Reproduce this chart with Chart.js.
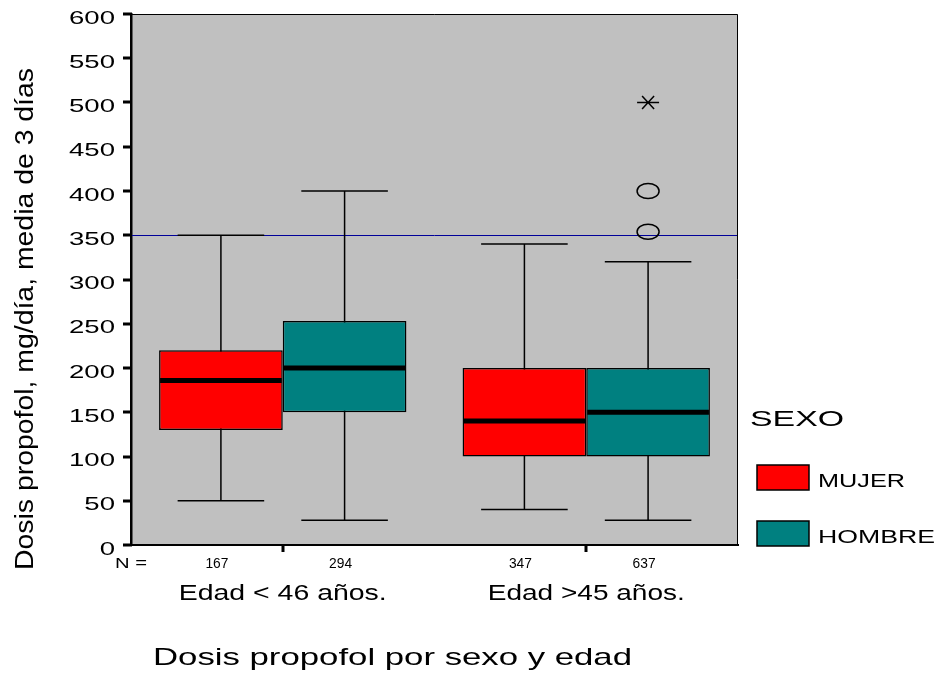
<!DOCTYPE html>
<html>
<head>
<meta charset="utf-8">
<script src="https://cdn.jsdelivr.net/npm/chart.js@4.4.1/dist/chart.umd.min.js"></script>
<style>
  html, body { margin: 0; padding: 0; background: #ffffff; }
  #wrap { width: 938px; height: 673px; }
</style>
</head>
<body>
<div id="wrap"><canvas id="chart" width="938" height="673"></canvas></div>
<script>
// Age groups on the x axis and the two sexes drawn side by side
const ageGroups = ['Edad < 46 años.', 'Edad >45 años.'];
const sexNames = ['MUJER', 'HOMBRE'];
const sexColors = ['#ff0000', '#008080'];

// Box-plot summaries (mg/día), one entry per age group
const mujerLow    = [50, 40];
const mujerQ1     = [130, 100];
const mujerMedian = [186, 140];
const mujerQ3     = [220, 200];
const mujerHigh   = [350, 340];

const hombreLow    = [28, 28];
const hombreQ1     = [150, 100];
const hombreMedian = [200, 150];
const hombreQ3     = [253, 200];
const hombreHigh   = [400, 320];

// Outliers (circles) and extreme values (asterisks)
const mujerOutliers  = [[], []];
const mujerExtremes  = [[], []];
const hombreOutliers = [[], [354, 400]];
const hombreExtremes = [[], [500]];

// Group sizes
const mujerN  = [167, 347];
const hombreN = [294, 637];

// Y axis range and the horizontal reference dose
const yMin = 0, yMax = 600, yStep = 50;
const referenceDose = 350;

const yTitle = 'Dosis propofol, mg/día, media de 3 días';
const bottomTitle = 'Dosis propofol por sexo y edad';
const legendTitle = 'SEXO';

const FONT = '"Liberation Sans", Arial, Helvetica, sans-serif';

const stats = [
  { low: mujerLow, q1: mujerQ1, med: mujerMedian, q3: mujerQ3, high: mujerHigh,
    out: mujerOutliers, ext: mujerExtremes, n: mujerN },
  { low: hombreLow, q1: hombreQ1, med: hombreMedian, q3: hombreQ3, high: hombreHigh,
    out: hombreOutliers, ext: hombreExtremes, n: hombreN }
];

// Draws text squeezed or stretched horizontally to a given width
function fitText(ctx, text, x, y, size, width, align) {
  ctx.save();
  ctx.font = size + 'px ' + FONT;
  ctx.textAlign = 'left';
  ctx.textBaseline = 'alphabetic';
  const natural = ctx.measureText(text).width;
  const sx = width / natural;
  let left = x;
  if (align === 'center') left = x - width / 2;
  else if (align === 'right') left = x - width;
  ctx.translate(left, y);
  ctx.scale(sx, 1);
  ctx.fillStyle = '#000000';
  ctx.fillText(text, 0, 0);
  ctx.restore();
}

// Same, with a fixed horizontal scale factor
function wideText(ctx, text, x, y, size, sx, align) {
  ctx.save();
  ctx.font = size + 'px ' + FONT;
  const w = ctx.measureText(text).width * sx;
  ctx.restore();
  fitText(ctx, text, x, y, size, w, align);
}

function barGeom(chart, d, i) {
  const el = chart.getDatasetMeta(d).data[i];
  return el.getProps(['x', 'width'], true);
}

const boxPlotPlugin = {
  id: 'boxPlot',
  beforeDraw(chart) {
    const { ctx, chartArea: a } = chart;
    ctx.save();
    ctx.fillStyle = '#ffffff';
    ctx.fillRect(0, 0, chart.width, chart.height);
    ctx.fillStyle = '#c0c0c0';
    ctx.fillRect(a.left, a.top, a.right - a.left, a.bottom - a.top);
    ctx.restore();
  },
  beforeDatasetsDraw(chart) {
    const { ctx, chartArea: a } = chart;
    const y = chart.scales.y;
    ctx.save();
    // reference dose line
    const ry = Math.round(y.getPixelForValue(referenceDose)) + 0.5;
    ctx.strokeStyle = '#000099';
    ctx.lineWidth = 1;
    ctx.beginPath();
    ctx.moveTo(a.left, ry);
    ctx.lineTo(a.right, ry);
    ctx.stroke();
    // whiskers behind the boxes
    ctx.strokeStyle = '#000000';
    ctx.lineWidth = 1.5;
    stats.forEach((s, d) => {
      ageGroups.forEach((g, i) => {
        const { x, width } = barGeom(chart, d, i);
        const yl = y.getPixelForValue(s.low[i]);
        const yh = y.getPixelForValue(s.high[i]);
        const cap = width * 0.35;
        ctx.beginPath();
        ctx.moveTo(x, yl); ctx.lineTo(x, yh);
        ctx.moveTo(x - cap, yl); ctx.lineTo(x + cap, yl);
        ctx.moveTo(x - cap, yh); ctx.lineTo(x + cap, yh);
        ctx.stroke();
      });
    });
    ctx.restore();
  },
  afterDatasetsDraw(chart) {
    const { ctx, chartArea: a } = chart;
    const y = chart.scales.y;
    ctx.save();
    // medians
    ctx.strokeStyle = '#000000';
    ctx.lineWidth = 5;
    stats.forEach((s, d) => {
      ageGroups.forEach((g, i) => {
        const { x, width } = barGeom(chart, d, i);
        const ym = y.getPixelForValue(s.med[i]);
        ctx.beginPath();
        ctx.moveTo(x - width / 2 + 1, ym);
        ctx.lineTo(x + width / 2 - 1, ym);
        ctx.stroke();
      });
    });
    // outliers and extremes
    ctx.lineWidth = 1.5;
    stats.forEach((s, d) => {
      ageGroups.forEach((g, i) => {
        const { x } = barGeom(chart, d, i);
        s.out[i].forEach(v => {
          const yv = y.getPixelForValue(v);
          ctx.beginPath();
          ctx.ellipse(x, yv, 11, 7.5, 0, 0, Math.PI * 2);
          ctx.stroke();
        });
        s.ext[i].forEach(v => {
          const yv = y.getPixelForValue(v);
          ctx.beginPath();
          ctx.moveTo(x - 11, yv); ctx.lineTo(x + 11, yv);
          ctx.moveTo(x - 6, yv - 6.5); ctx.lineTo(x + 6, yv + 6.5);
          ctx.moveTo(x - 6, yv + 6.5); ctx.lineTo(x + 6, yv - 6.5);
          ctx.stroke();
        });
      });
    });
    // thin frame on top and right of the plot area
    ctx.strokeStyle = '#000000';
    ctx.lineWidth = 1;
    ctx.beginPath();
    ctx.moveTo(a.left, a.top + 0.5);
    ctx.lineTo(a.right - 0.5, a.top + 0.5);
    ctx.lineTo(a.right - 0.5, a.bottom);
    ctx.stroke();
    ctx.restore();
  },
  afterDraw(chart) {
    const { ctx, chartArea: a } = chart;
    const y = chart.scales.y;
    const xs = chart.scales.x;

    // bold tick marks on both axes
    ctx.save();
    ctx.fillStyle = '#000000';
    y.ticks.forEach(t => {
      const py = Math.round(y.getPixelForValue(t.value));
      ctx.fillRect(a.left - 8, py - 1.5, 9, 3);
    });
    ageGroups.forEach((g, i) => {
      const px = Math.round(xs.getPixelForValue(i));
      ctx.fillRect(px - 1.5, a.bottom, 3, 7);
    });
    ctx.restore();

    // y tick labels
    y.ticks.forEach(t => {
      const py = y.getPixelForValue(t.value);
      wideText(ctx, String(t.value), 115, py + 9.5, 19, 1.45, 'right');
    });

    // N row
    fitText(ctx, 'N =', 115, 568, 14, 32, 'left');
    stats.forEach((s, d) => {
      ageGroups.forEach((g, i) => {
        const { x } = barGeom(chart, d, i);
        fitText(ctx, String(s.n[i]), x - 4, 568, 14, 23, 'center');
      });
    });

    // category labels
    const catWidths = [208, 197];
    ageGroups.forEach((g, i) => {
      const px = xs.getPixelForValue(i);
      fitText(ctx, g, px, 600, 22, catWidths[i], 'center');
    });

    // y axis title, rotated
    ctx.save();
    ctx.translate(33, 319);
    ctx.rotate(-Math.PI / 2);
    fitText(ctx, yTitle, 0, 0, 25, 502, 'center');
    ctx.restore();

    // chart title under the axis
    fitText(ctx, bottomTitle, 153, 665, 24, 479, 'left');

    // legend
    fitText(ctx, legendTitle, 750, 426, 22, 94, 'left');
    const rowY = [465, 521];
    const textW = [87, 117];
    chart.data.datasets.forEach((ds, d) => {
      ctx.save();
      ctx.fillStyle = ds.backgroundColor;
      ctx.fillRect(757, rowY[d], 52, 25);
      ctx.strokeStyle = '#000000';
      ctx.lineWidth = 1.5;
      ctx.strokeRect(757, rowY[d], 52, 25);
      ctx.restore();
      fitText(ctx, ds.label, 818, rowY[d] + 22, 18, textW[d], 'left');
    });
  }
};

const datasets = stats.map((s, d) => ({
  label: sexNames[d],
  data: ageGroups.map((g, i) => [s.q1[i], s.q3[i]]),
  backgroundColor: sexColors[d],
  borderColor: '#000000',
  borderWidth: 1.5,
  borderSkipped: false,
  categoryPercentage: 0.815,
  barPercentage: 1.0
}));

new Chart(document.getElementById('chart'), {
  type: 'bar',
  data: { labels: ageGroups, datasets },
  options: {
    responsive: false,
    animation: false,
    devicePixelRatio: 1,
    events: [],
    layout: { padding: { left: 0, right: 200, top: 14, bottom: 0 } },
    plugins: {
      legend: { display: false },
      tooltip: { enabled: false },
      title: { display: false }
    },
    scales: {
      x: {
        offset: true,
        ticks: { display: false },
        grid: { display: false, offset: false },
        border: { display: true, color: '#000000', width: 2 },
        afterFit(scale) { scale.height = 128; }
      },
      y: {
        min: yMin,
        max: yMax,
        ticks: { display: false, stepSize: yStep },
        grid: { display: false },
        border: { display: true, color: '#000000', width: 2.5 },
        afterFit(scale) { scale.width = 131; }
      }
    }
  },
  plugins: [boxPlotPlugin]
});
</script>
</body>
</html>
